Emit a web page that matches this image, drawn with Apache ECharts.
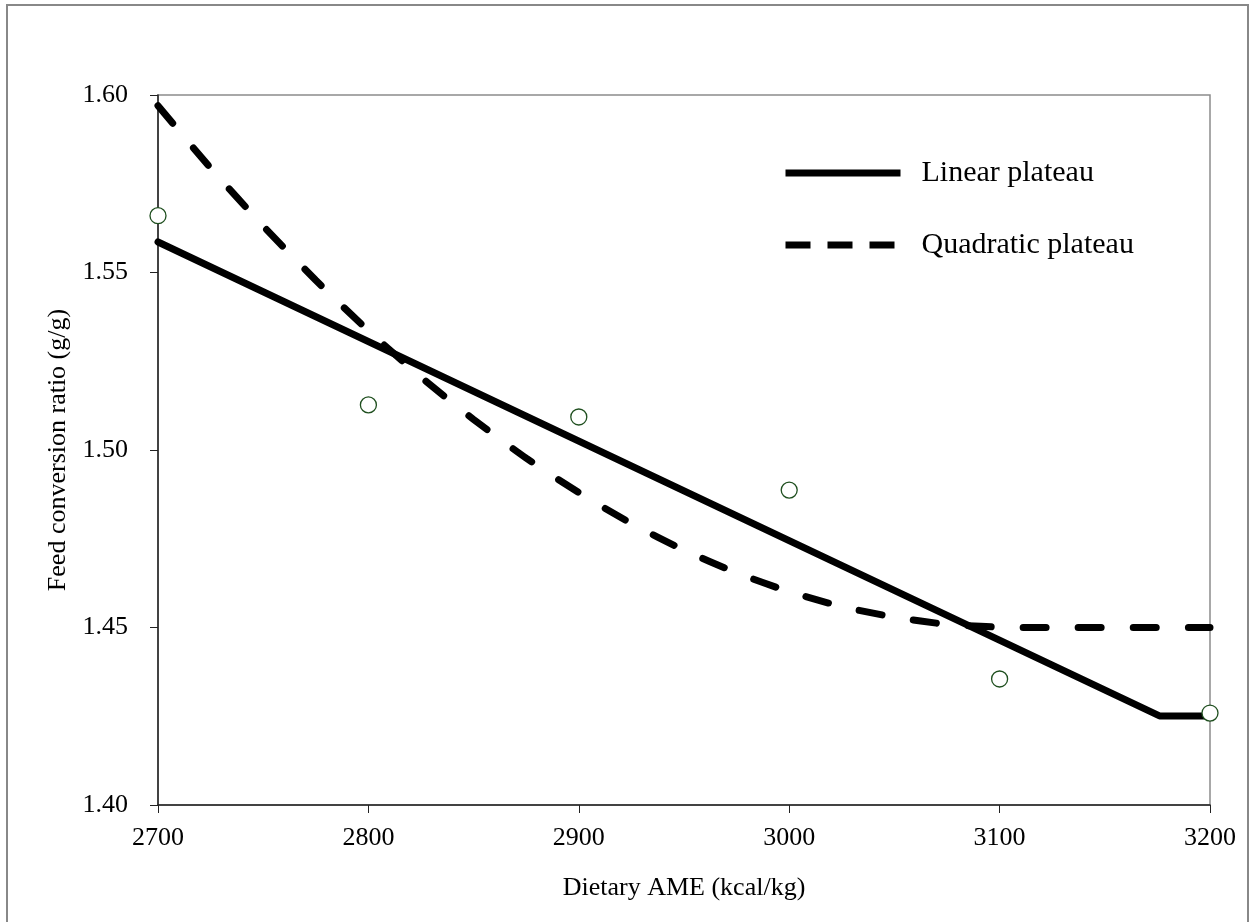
<!DOCTYPE html>
<html>
<head>
<meta charset="utf-8">
<script src="https://cdn.jsdelivr.net/npm/echarts@6/dist/echarts.min.js"></script>
<style>
  html, body { margin: 0; padding: 0; background: #fff; }
  #chart { width: 1255px; height: 922px; }
</style>
</head>
<body>
<div id="chart"></div>
<script>
// observed means (kcal/kg, g/g)
const ameLevels = [2700, 2800, 2900, 3000, 3100, 3200];
const fcrObserved = [1.566, 1.5127, 1.5093, 1.4887, 1.4355, 1.4259];

// linear plateau fit
const linearX = [2700, 3176, 3200];
const linearY = [1.5586, 1.4251, 1.4251];

// quadratic plateau fit
const quadX = [2700, 2725, 2750, 2775, 2800, 2825, 2850, 2875, 2900, 2925, 2950, 2975, 3000, 3025, 3050, 3075, 3107, 3200];
const quadY = [1.597, 1.5794, 1.5631, 1.5478, 1.5336, 1.5205, 1.5086, 1.4977, 1.4880, 1.4793, 1.4718, 1.4654, 1.4601, 1.4559, 1.4529, 1.4509, 1.4500, 1.4500];

const yTicks = [1.40, 1.45, 1.50, 1.55, 1.60];

const zip = (xs, ys) => xs.map((x, i) => [x, ys[i]]);
const serif = '"Liberation Serif", "DejaVu Serif", serif';

const chart = echarts.init(document.getElementById('chart'));
chart.setOption({
    animation: false,
    backgroundColor: '#fff',
    graphic: [{
        type: 'rect',
        shape: { x: 7, y: 5, width: 1241, height: 940 },
        style: { fill: 'none', stroke: '#888', lineWidth: 2 },
        silent: true
    }],
    grid: {
        left: 158, right: 45, top: 95, bottom: 117,
        show: true, borderColor: '#8c8c8c', borderWidth: 1.5
    },
    legend: {
        orient: 'vertical',
        left: 777, top: 153,
        itemWidth: 115, itemHeight: 12,
        itemGap: 42,
        itemStyle: { opacity: 0 },
        lineStyle: { width: 7, color: '#000', cap: 'butt' },
        textStyle: { fontFamily: serif, fontSize: 30, color: '#000', padding: [0, 0, 0, 16] },
        data: [
            { name: 'Linear plateau' },
            { name: 'Quadratic plateau', lineStyle: { type: [25, 17] } }
        ]
    },
    xAxis: {
        type: 'value',
        min: 2700, max: 3200, interval: 100,
        name: 'Dietary AME (kcal/kg)',
        nameLocation: 'middle', nameGap: 70,
        nameTextStyle: { fontFamily: serif, fontSize: 26, color: '#000' },
        axisLine: { lineStyle: { color: '#222', width: 1.5 } },
        axisTick: { show: true, length: 8, lineStyle: { color: '#222' } },
        axisLabel: {
            fontFamily: serif, fontSize: 26, color: '#000', margin: 20,
            formatter: v => String(v)
        },
        splitLine: { show: false }
    },
    yAxis: {
        type: 'value',
        min: 1.40, max: 1.60, interval: 0.05,
        name: 'Feed conversion ratio (g/g)',
        nameLocation: 'middle', nameGap: 85,
        nameTextStyle: { fontFamily: serif, fontSize: 26, color: '#000' },
        axisLine: { show: true, lineStyle: { color: '#222', width: 1.5 } },
        axisTick: { show: true, length: 8, lineStyle: { color: '#222' } },
        axisLabel: {
            fontFamily: serif, fontSize: 26, color: '#000', margin: 30,
            formatter: v => yTicks.find(t => Math.abs(t - v) < 1e-6).toFixed(2)
        },
        splitLine: { show: false }
    },
    series: [
        {
            name: 'Linear plateau',
            type: 'line',
            data: zip(linearX, linearY),
            symbol: 'none',
            lineStyle: { color: '#000', width: 7, join: 'round', cap: 'round' },
            itemStyle: { color: '#000' },
            z: 2
        },
        {
            name: 'Quadratic plateau',
            type: 'line',
            data: zip(quadX, quadY),
            symbol: 'none',
            smooth: 0.2,
            lineStyle: { color: '#000', width: 7, type: [23, 32], cap: 'round' },
            itemStyle: { color: '#000' },
            z: 2
        },
        {
            name: 'Observed',
            type: 'scatter',
            data: zip(ameLevels, fcrObserved),
            symbol: 'circle',
            symbolSize: 16,
            clip: false,
            itemStyle: { color: '#fff', borderColor: '#1f4f1f', borderWidth: 1.3, opacity: 1 },
            z: 5
        }
    ]
});
</script>
</body>
</html>
